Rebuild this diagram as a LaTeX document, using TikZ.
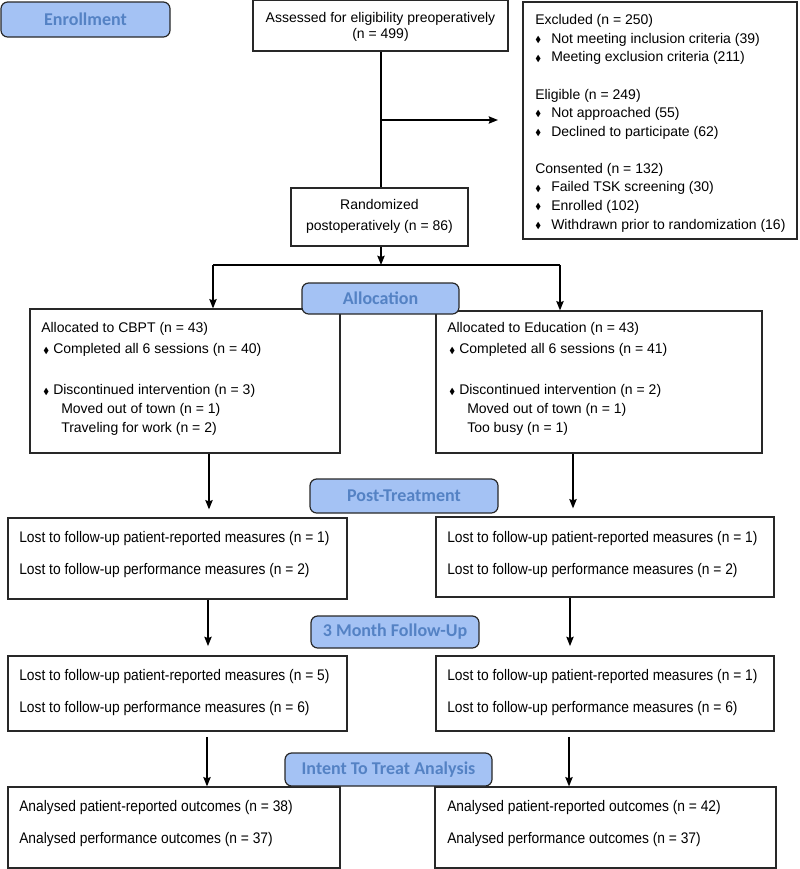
\documentclass[tikz,border=0pt]{standalone}
\usepackage{fontspec}
\usepackage{amssymb}
\usepackage{graphicx}
\setmainfont{Liberation Sans}
\newfontfamily\narrowfont[FakeStretch=0.9]{Liberation Sans}
\newfontfamily\hdrfont{Carlito}
\usetikzlibrary{fit,arrows.meta}
\definecolor{hdrfill}{RGB}{164,194,244}
\definecolor{hdrtext}{RGB}{84,130,196}
\definecolor{edge}{RGB}{40,40,40}
\newcommand\bulglyph{\raisebox{0.6pt}{\scalebox{0.62}{$\blacklozenge$}}}
\newcommand\bulE{\makebox[12pt][l]{\bulglyph}}
\newcommand\bulC{\makebox[9pt][l]{\hspace{1.5pt}\bulglyph}}
\newcommand\subind{\hspace*{15pt}}
\begin{document}
\begin{tikzpicture}[x=0.75pt,y=-0.75pt,
  box/.style={draw=edge, line width=0.9pt, inner sep=0pt},
  hdr/.style={draw=edge, fill=hdrfill, rounded corners=5pt, line width=0.9pt, inner sep=0pt},
  hdrtxt/.style={text=hdrtext, inner sep=0pt, font=\hdrfont\bfseries\fontsize{13.5}{16}\selectfont},
  ctxt/.style={align=center, inner sep=0pt},
  txt/.style={font=\fontsize{10.5}{13.9}\selectfont, align=left, inner sep=0pt, anchor=base west},
  ltxt/.style={font=\narrowfont\fontsize{11.5}{24}\selectfont, align=left, inner sep=0pt, anchor=base west},
  arr/.style={-{Stealth[length=7pt,width=5.5pt,inset=1pt]}, line width=1.1pt, draw=black},
  ln/.style={line width=1.1pt, draw=black}]
\useasboundingbox (0,0) rectangle (800,869);
\fill[white] (0,0) rectangle (800,869);

% ---- boxes ----
\node[box, fit={(253,0.6)(508,51)}] (assess) {};
\node[ctxt, font=\fontsize{10.5}{11.5}\selectfont] (assesstxt) at (380.5,27)
  {Assessed for eligibility preoperatively\\(n = 499)};
\node[box, fit={(291,188)(468,246)}] (rand) {};
\node[ctxt, font=\fontsize{10.5}{15.75}\selectfont] (randtxt) at (379.5,216)
  {Randomized\\postoperatively (n = 86)};

\node[box, fit={(523,2)(797,239)}] (excl) {};
\node[txt] (excltxt) at (535,229) {Excluded (n = 250)\\
\bulE Not meeting inclusion criteria (39)\\
\bulE Meeting exclusion criteria (211)\\[14pt]
Eligible (n = 249)\\
\bulE Not approached (55)\\
\bulE Declined to participate (62)\\[14pt]
Consented (n = 132)\\
\bulE Failed TSK screening (30)\\
\bulE Enrolled (102)\\
\bulE Withdrawn prior to randomization (16)};

\node[box, fit={(30,309)(340,453)}] (cbpt) {};
\node[txt] (cbpttxt) at (41,432) {Allocated to CBPT (n = 43)\\[1.9pt]
\bulC Completed all 6 sessions (n = 40)\\[16.9pt]
\bulC Discontinued intervention (n = 3)\\
\subind Moved out of town (n = 1)\\
\subind Traveling for work (n = 2)};

\node[box, fit={(436,311)(762,453)}] (edu) {};
\node[txt] (edutxt) at (447,432) {Allocated to Education (n = 43)\\[1.9pt]
\bulC Completed all 6 sessions (n = 41)\\[16.9pt]
\bulC Discontinued intervention (n = 2)\\
\subind Moved out of town (n = 1)\\
\subind Too busy (n = 1)};

\node[box, fit={(8,518)(347,599)}] (pl) {};
\node[ltxt] (pltxt) at (19,574) {Lost to follow-up patient-reported measures (n = 1)\\
Lost to follow-up performance measures (n = 2)};
\node[box, fit={(436,517)(774,597)}] (pr) {};
\node[ltxt] (prtxt) at (447,574) {Lost to follow-up patient-reported measures (n = 1)\\
Lost to follow-up performance measures (n = 2)};

\node[box, fit={(8,656)(347,731)}] (fl) {};
\node[ltxt] (fltxt) at (19,712) {Lost to follow-up patient-reported measures (n = 5)\\
Lost to follow-up performance measures (n = 6)};
\node[box, fit={(436,656)(774,731)}] (fr) {};
\node[ltxt] (frtxt) at (447,712) {Lost to follow-up patient-reported measures (n = 1)\\
Lost to follow-up performance measures (n = 6)};

\node[box, fit={(8,787)(340,868)}] (al) {};
\node[ltxt] (altxt) at (19,843) {Analysed patient-reported outcomes (n = 38)\\
Analysed performance outcomes (n = 37)};
\node[box, fit={(435,787)(776,868)}] (ar) {};
\node[ltxt] (artxt) at (447,843) {Analysed patient-reported outcomes (n = 42)\\
Analysed performance outcomes (n = 37)};

% ---- connectors ----
\coordinate (br) at (381,120);
\coordinate (exclarr) at (498,120);
\coordinate (split) at (381,265);
\coordinate (sl) at (213,265);
\coordinate (sr) at (560,265);
\coordinate (c1l) at (209,0); \coordinate (c1r) at (573,0);
\coordinate (c2l) at (208,0); \coordinate (c2r) at (570,0);
\coordinate (c3l) at (207,0); \coordinate (c3r) at (569,0);

\draw[ln] (assess.south -| br) -- (rand.north -| br);
\draw[arr] (br) -- (exclarr);
\draw[arr] (rand.south -| split) -- (split);
\draw[ln] (sl) -- (sr);
\draw[arr] (sl) -- (sl |- cbpt.north);
\draw[arr] (sr) -- (sr |- edu.north);
\draw[arr, shorten >=6pt] (cbpt.south -| c1l) -- (pl.north -| c1l);
\draw[arr, shorten >=6pt] (edu.south -| c1r) -- (pr.north -| c1r);
\draw[arr, shorten >=7pt] (pl.south -| c2l) -- (fl.north -| c2l);
\draw[arr, shorten >=7pt] (pr.south -| c2r) -- (fr.north -| c2r);
\draw[arr, shorten <=4pt] (fl.south -| c3l) -- (al.north -| c3l);
\draw[arr, shorten <=4pt] (fr.south -| c3r) -- (ar.north -| c3r);

% ---- stage headers ----
\node[hdr, fit={(1,2)(170,37)}] (enr) {};
\node[hdrtxt] (enrtxt) at (enr.center) {Enrollment};
\node[hdr, fit={(302,283)(459,314)}] (alloc) {};
\node[hdrtxt] (alloctxt) at (alloc.center) {Allocation};
\node[hdr, fit={(310,479)(498,513)}] (post) {};
\node[hdrtxt] (posttxt) at (post.center) {Post-Treatment};
\node[hdr, fit={(311,616)(479,648)}] (fu) {};
\node[hdrtxt] (futxt) at (fu.center) {3 Month Follow-Up};
\node[hdr, fit={(285,753)(492,786)}] (itt) {};
\node[hdrtxt] (itttxt) at (itt.center) {Intent To Treat Analysis};
\end{tikzpicture}
\end{document}
